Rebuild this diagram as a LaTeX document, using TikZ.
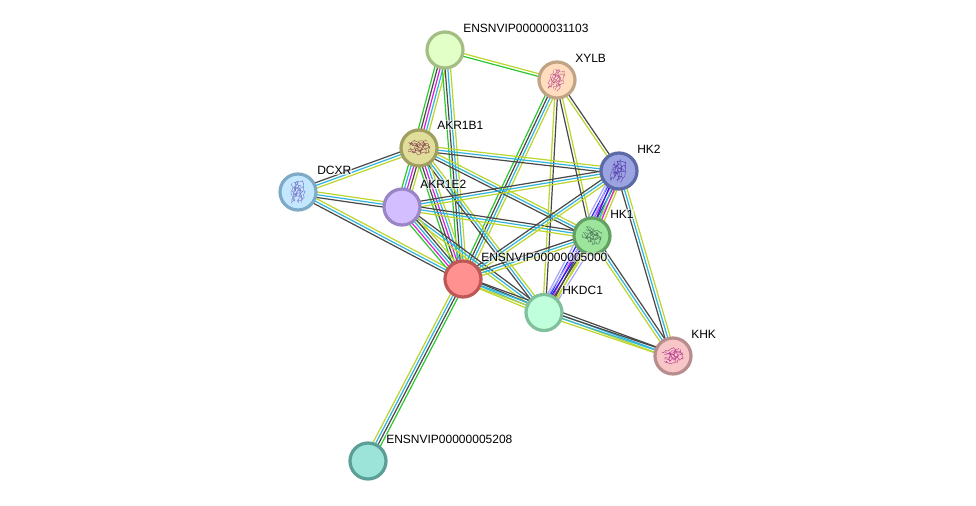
\documentclass[tikz,border=0pt]{standalone}
\usepackage{fontspec}
\setmainfont{Liberation Sans}
\usetikzlibrary{calc,backgrounds,decorations.pathmorphing}
\definecolor{lg}{HTML}{2FC72F}
\definecolor{lk}{HTML}{484848}
\definecolor{lc}{HTML}{2FB4DC}
\definecolor{ly}{HTML}{BBD52C}
\definecolor{lm}{HTML}{D81FD8}
\definecolor{lb}{HTML}{2222EE}
\definecolor{lp}{HTML}{A6A6FF}
% bubble fill (f) and rim (r) colours
\definecolor{fa}{HTML}{E2FFC8}\definecolor{ra}{HTML}{A3BD83}
\definecolor{fb}{HTML}{FFDDBE}\definecolor{rb}{HTML}{BFA485}
\definecolor{fc}{HTML}{E1DE9C}\definecolor{rc}{HTML}{A09F60}
\definecolor{fd}{HTML}{9BA4E0}\definecolor{rd}{HTML}{5B69A6}
\definecolor{fe}{HTML}{C2E7FF}\definecolor{re}{HTML}{7FAAC6}
\definecolor{ff}{HTML}{D3BEFF}\definecolor{rf}{HTML}{9A85C5}
\definecolor{fg}{HTML}{9CE39C}\definecolor{rg}{HTML}{62A162}
\definecolor{fh}{HTML}{FF9191}\definecolor{rh}{HTML}{BF5757}
\definecolor{fi}{HTML}{C0FFDC}\definecolor{ri}{HTML}{80C09C}
\definecolor{fj}{HTML}{F8C6C6}\definecolor{rj}{HTML}{B88D8D}
\definecolor{fk}{HTML}{9CE3D9}\definecolor{rk}{HTML}{5A9E95}
% fold colours
\definecolor{sb}{HTML}{C05A94}
\definecolor{sc}{HTML}{8A4A50}
\definecolor{sd}{HTML}{5A3FB0}
\definecolor{se}{HTML}{7C78C8}
\definecolor{sg}{HTML}{4E7A5C}
\definecolor{sj}{HTML}{B83C98}
\pgfdeclarelayer{bonds}
\pgfsetlayers{background,bonds,main}
\tikzset{
  protein/.style n args={2}{circle,draw=#2,fill=#1,line width=2.4pt,minimum size=27pt,inner sep=0pt},
  tag/.style={anchor=west,inner sep=.4pt,fill=white,fill opacity=.55,text opacity=1,font=\fontsize{9}{10}\selectfont},
  bond/.style={line width=.9pt},
  strand/.style={line width=.3pt,rounded corners=.4pt,decorate,decoration={random steps,segment length=1.2pt,amplitude=1.2pt}}
}
% Parallel evidence lines between two proteins; the last colour lies left of the travel direction
\newcommand{\bondlines}[3]{%
  \foreach \shade [count=\n] in {#3} {\xdef\total{\n}}%
  \foreach \shade [count=\n] in {#3} {%
    \pgfmathsetmacro{\off}{(\n-(\total+1)/2)*2.05}%
    \draw[bond,\shade] ($(#1.center)!\off pt!90:(#2.center)$) -- ($(#2.center)!\off pt!-90:(#1.center)$);%
  }%
}
% Small ribbon-like fold drawn inside a protein bubble
\newcommand{\fold}[4]{%
  \begin{scope}[shift={(#1.center)},rotate=#3,xscale=#4]
    \draw[strand,#2] (-8pt,-3pt) -- (0pt,-5pt) -- (8pt,-3pt) -- (7pt,3pt) -- (-1pt,1pt) -- (-8pt,4pt) -- (-2pt,5pt) -- (6pt,5pt);
    \draw[strand,#2] (-7pt,0pt) -- (1pt,-2pt) -- (8pt,1pt) -- (0pt,4pt) -- (-7pt,2pt);
    \draw[strand,#2] (-4pt,-4pt) -- (-2pt,3pt) -- (1pt,-4pt) -- (3pt,4pt) -- (5pt,-4pt);
    \draw[strand,#2] (-8pt,-1pt) -- (-3pt,-3pt) -- (3pt,-1pt) -- (-3pt,2pt) -- (4pt,3pt);
  \end{scope}%
}
\begin{document}
\begin{tikzpicture}[x=.75pt,y=-.75pt]
\pgfmathsetseed{7}
\useasboundingbox (0,0) rectangle (976,506);
\begin{pgfonlayer}{background}
\fill[white] (0,0) rectangle (976,506);
\end{pgfonlayer}

% proteins
\node[protein={fa}{ra}] (p31103) at (445,50) {};
\node[protein={fb}{rb}] (xylb) at (557,80) {};
\node[protein={fc}{rc}] (akrb) at (419,148) {};
\node[protein={fd}{rd}] (hkb) at (619,171) {};
\node[protein={fe}{re}] (dcxr) at (298,192) {};
\node[protein={ff}{rf}] (akre) at (402,207) {};
\node[protein={fg}{rg}] (hka) at (592,236) {};
\node[protein={fh}{rh}] (p5000) at (463,279) {};
\node[protein={fi}{ri}] (hkdc) at (544,312.5) {};
\node[protein={fj}{rj}] (khk) at (673,356) {};
\node[protein={fk}{rk}] (p5208) at (368,461) {};

% evidence lines
\begin{pgfonlayer}{bonds}
\bondlines{p31103}{xylb}{lg,ly}
\bondlines{p31103}{akrb}{lg,lk,lm,lc,ly}
\bondlines{p31103}{p5000}{lg,lk,lc,ly}
\bondlines{xylb}{p5000}{lg,lk,lc,ly}
\bondlines{xylb}{hkdc}{ly,lk}
\bondlines{xylb}{hka}{lk,ly}
\bondlines{xylb}{hkb}{ly,lk}
\bondlines{akrb}{hkb}{lk,lc,ly}
\bondlines{akrb}{hka}{lk,lc,ly}
\bondlines{akrb}{hkdc}{lk,lc,ly}
\bondlines{akrb}{dcxr}{lk,lc,ly}
\bondlines{akrb}{akre}{lg,lc,lm,lk,ly}
\bondlines{akrb}{p5000}{lg,lk,lm,lc,ly}
\bondlines{dcxr}{akre}{lk,lc,ly}
\bondlines{dcxr}{p5000}{lk,lc,ly}
\bondlines{akre}{hkb}{ly,lc,lk}
\bondlines{akre}{hka}{ly,lc,lk}
\bondlines{akre}{hkdc}{ly,lc,lk}
\bondlines{akre}{p5000}{lg,lm,lc,lk,ly}
\bondlines{p5000}{hkb}{ly,lc,lk}
\bondlines{p5000}{hka}{ly,lc,lk}
\bondlines{p5000}{hkdc}{ly,lc,lk}
\bondlines{p5000}{khk}{ly,lc,lk}
\bondlines{p5000}{p5208}{ly,lc,lk,lg}
\bondlines{hkdc}{khk}{ly,lc,lk}
\bondlines{hkb}{hkdc}{lp,lb,lm,lk,ly}
\bondlines{hka}{hkdc}{lp,lb,lk,ly,lp}
\bondlines{hkb}{hka}{lp,lb,lc,lm,ly}
\bondlines{hkb}{khk}{lk,lc,ly}
\bondlines{hka}{khk}{ly,lc,lk}
\end{pgfonlayer}

% structure sketches
\fold{xylb}{sb}{70}{1}
\fold{akrb}{sc}{0}{1}
\fold{hkb}{sd}{75}{1}
\fold{dcxr}{se}{85}{1}
\fold{hka}{sg}{-30}{.9}
\fold{khk}{sj}{10}{.9}

% labels
\node[tag] (t31103) at (462.5,28) {ENSNVIP00000031103};
\node[tag] (txylb) at (574.5,58) {XYLB};
\node[tag] (takrb) at (436.5,125) {AKR1B1};
\node[tag] (thkb) at (636.5,149) {HK2};
\node[tag] (tdcxr) at (316.5,170) {DCXR};
\node[tag] (takre) at (419.5,184) {AKR1E2};
\node[tag] (thka) at (609.5,214) {HK1};
\node[tag] (t5000) at (480.5,257) {ENSNVIP00000005000};
\node[tag] (thkdc) at (561.5,290) {HKDC1};
\node[tag] (tkhk) at (690.5,334) {KHK};
\node[tag] (t5208) at (385.5,439) {ENSNVIP00000005208};
\end{tikzpicture}
\end{document}
